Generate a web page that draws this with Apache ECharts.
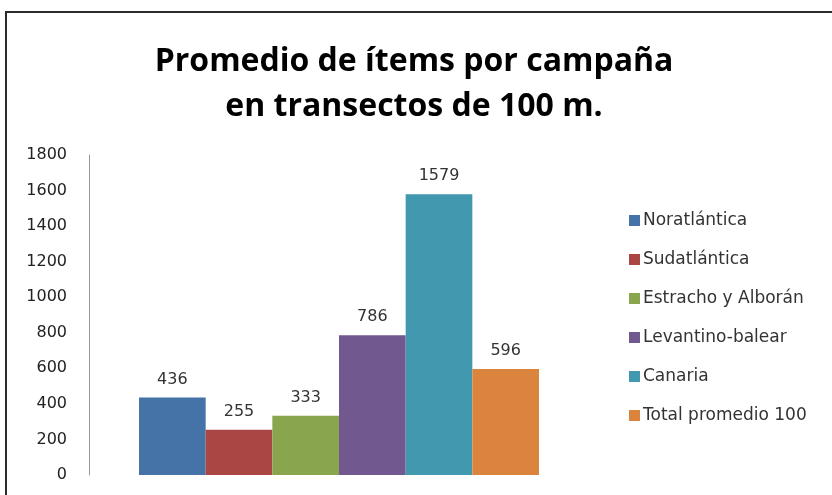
<!DOCTYPE html>
<html>
<head>
<meta charset="utf-8">
<script src="https://cdn.jsdelivr.net/npm/echarts@6/dist/echarts.min.js"></script>
<style>
  html, body { margin: 0; padding: 0; background: #fff; }
  #frame { position: absolute; left: 5px; top: 11px; width: 840px; height: 500px; border: 2px solid #2b2b2b; box-sizing: border-box; }
  #chart { position: absolute; left: 0; top: 0; width: 832px; height: 495px; }
</style>
</head>
<body>
<div id="frame"></div>
<div id="chart"></div>
<script>
// Average litter items per survey campaign, by marine region
const categories = ['Promedio'];
const regions = ['Noratlántica', 'Sudatlántica', 'Estracho y Alborán', 'Levantino-balear', 'Canaria', 'Total promedio 100'];
const values = [436, 255, 333, 786, 1579, 596];
const colors = ['#4572A7', '#AA4643', '#89A54E', '#71588F', '#4198AF', '#DB843D'];
const yTicks = [0, 200, 400, 600, 800, 1000, 1200, 1400, 1600, 1800];

const titleFont = 'Open Sans';
const textFont = 'DejaVu Sans';
const chart = echarts.init(document.getElementById('chart'));

const series = regions.map((name, i) => ({
  name: name,
  type: 'bar',
  data: [values[i]],
  barGap: '0%',
  barCategoryGap: '20%',
  itemStyle: { color: colors[i] },
  label: {
    show: true,
    position: 'top',
    distance: 10,
    color: '#333',
    fontFamily: textFont,
    fontSize: 16
  }
}));

chart.setOption({
  animation: false,
  color: colors,
  title: {
    text: 'Promedio de ítems por campaña\nen transectos de 100 m.',
    left: 409,
    textAlign: 'center',
    top: 34,
    textStyle: {
      fontFamily: titleFont,
      fontWeight: 'bold',
      fontSize: 32,
      lineHeight: 45,
      color: '#000'
    }
  },
  legend: {
    orient: 'vertical',
    left: 624,
    top: 207,
    itemWidth: 11,
    itemHeight: 11,
    itemGap: 22,
    icon: 'rect',
    textStyle: { fontFamily: textFont, fontSize: 17, color: '#333', padding: [0, 0, 0, -2] },
    data: regions
  },
  grid: { left: 89, right: 243, top: 155, bottom: 20, containLabel: false },
  xAxis: {
    type: 'category',
    data: categories,
    axisLine: { show: false },
    axisTick: { show: false },
    axisLabel: { show: false }
  },
  yAxis: {
    type: 'value',
    min: yTicks[0],
    max: yTicks[yTicks.length - 1],
    interval: 200,
    axisLine: { show: true, lineStyle: { color: '#999', width: 1 } },
    axisTick: { show: false },
    splitLine: { show: false },
    axisLabel: { fontFamily: textFont, fontSize: 16, color: '#222', margin: 22, formatter: v => String(v) }
  },
  series: series
});
</script>
</body>
</html>
